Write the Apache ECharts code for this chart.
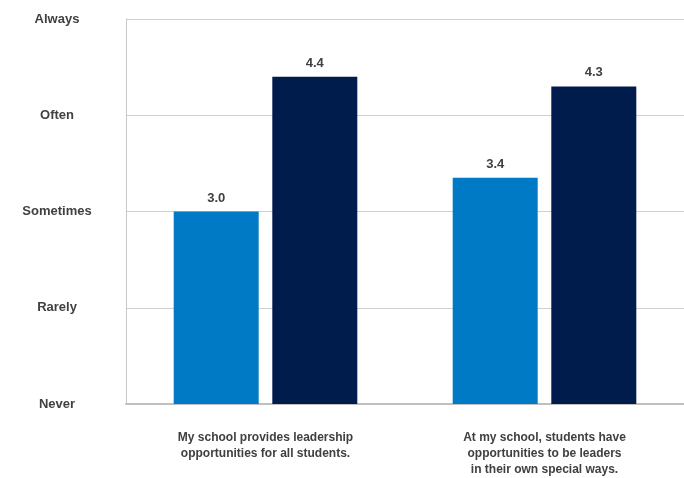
<!DOCTYPE html>
<html><head><meta charset="utf-8">
<script src="https://cdn.jsdelivr.net/npm/echarts@6/dist/echarts.min.js"></script>
<style>html,body{margin:0;padding:0;background:#fff}#c{width:684px;height:478px}</style>
</head><body><div id="c"></div>
<script>
var categories = ["My school provides leadership\nopportunities for all students.", "At my school, students have\nopportunities to be leaders\nin their own special ways."];
var seriesA = [3.0, 3.35];
var seriesB = [4.4, 4.3];
var yTickLabels = {1: "Never", 2: "Rarely", 3: "Sometimes", 4: "Often", 5: "Always"};

var chart = echarts.init(document.getElementById('c'));
var lbl = {show: true, position: 'top', distance: 7, color: '#404040', fontWeight: 'bold', fontSize: 13, fontFamily: 'Liberation Sans, Arial', formatter: function(p){return p.value.toFixed(1);}};
chart.setOption({
  animation: false,
  grid: {left: 126, right: -6, top: 19, bottom: 73},
  xAxis: {
    type: 'category', data: categories,
    axisLine: {lineStyle: {color: '#bfbfbf', width: 2}},
    axisTick: {show: false},
    axisLabel: {margin: 26, color: '#404040', fontWeight: 'bold', fontSize: 12, lineHeight: 16, fontFamily: 'Liberation Sans, Arial', interval: 0}
  },
  yAxis: {
    type: 'value', min: 1, max: 5, interval: 1,
    axisLine: {show: true, lineStyle: {color: '#c8c8c8'}},
    axisTick: {show: false},
    splitLine: {lineStyle: {color: '#d0d0d0'}},
    axisLabel: {margin: 69, align: 'center', color: '#404040', fontWeight: 'bold', fontSize: 13, fontFamily: 'Liberation Sans, Arial',
      formatter: function(v){return yTickLabels[v] || '';}}
  },
  series: [
    {type: 'bar', data: seriesA, barWidth: 85, barGap: '16%', itemStyle: {color: '#007AC4'}, label: lbl},
    {type: 'bar', data: seriesB, barWidth: 85, itemStyle: {color: '#001C4C'}, label: lbl}
  ]
});
</script></body></html>
